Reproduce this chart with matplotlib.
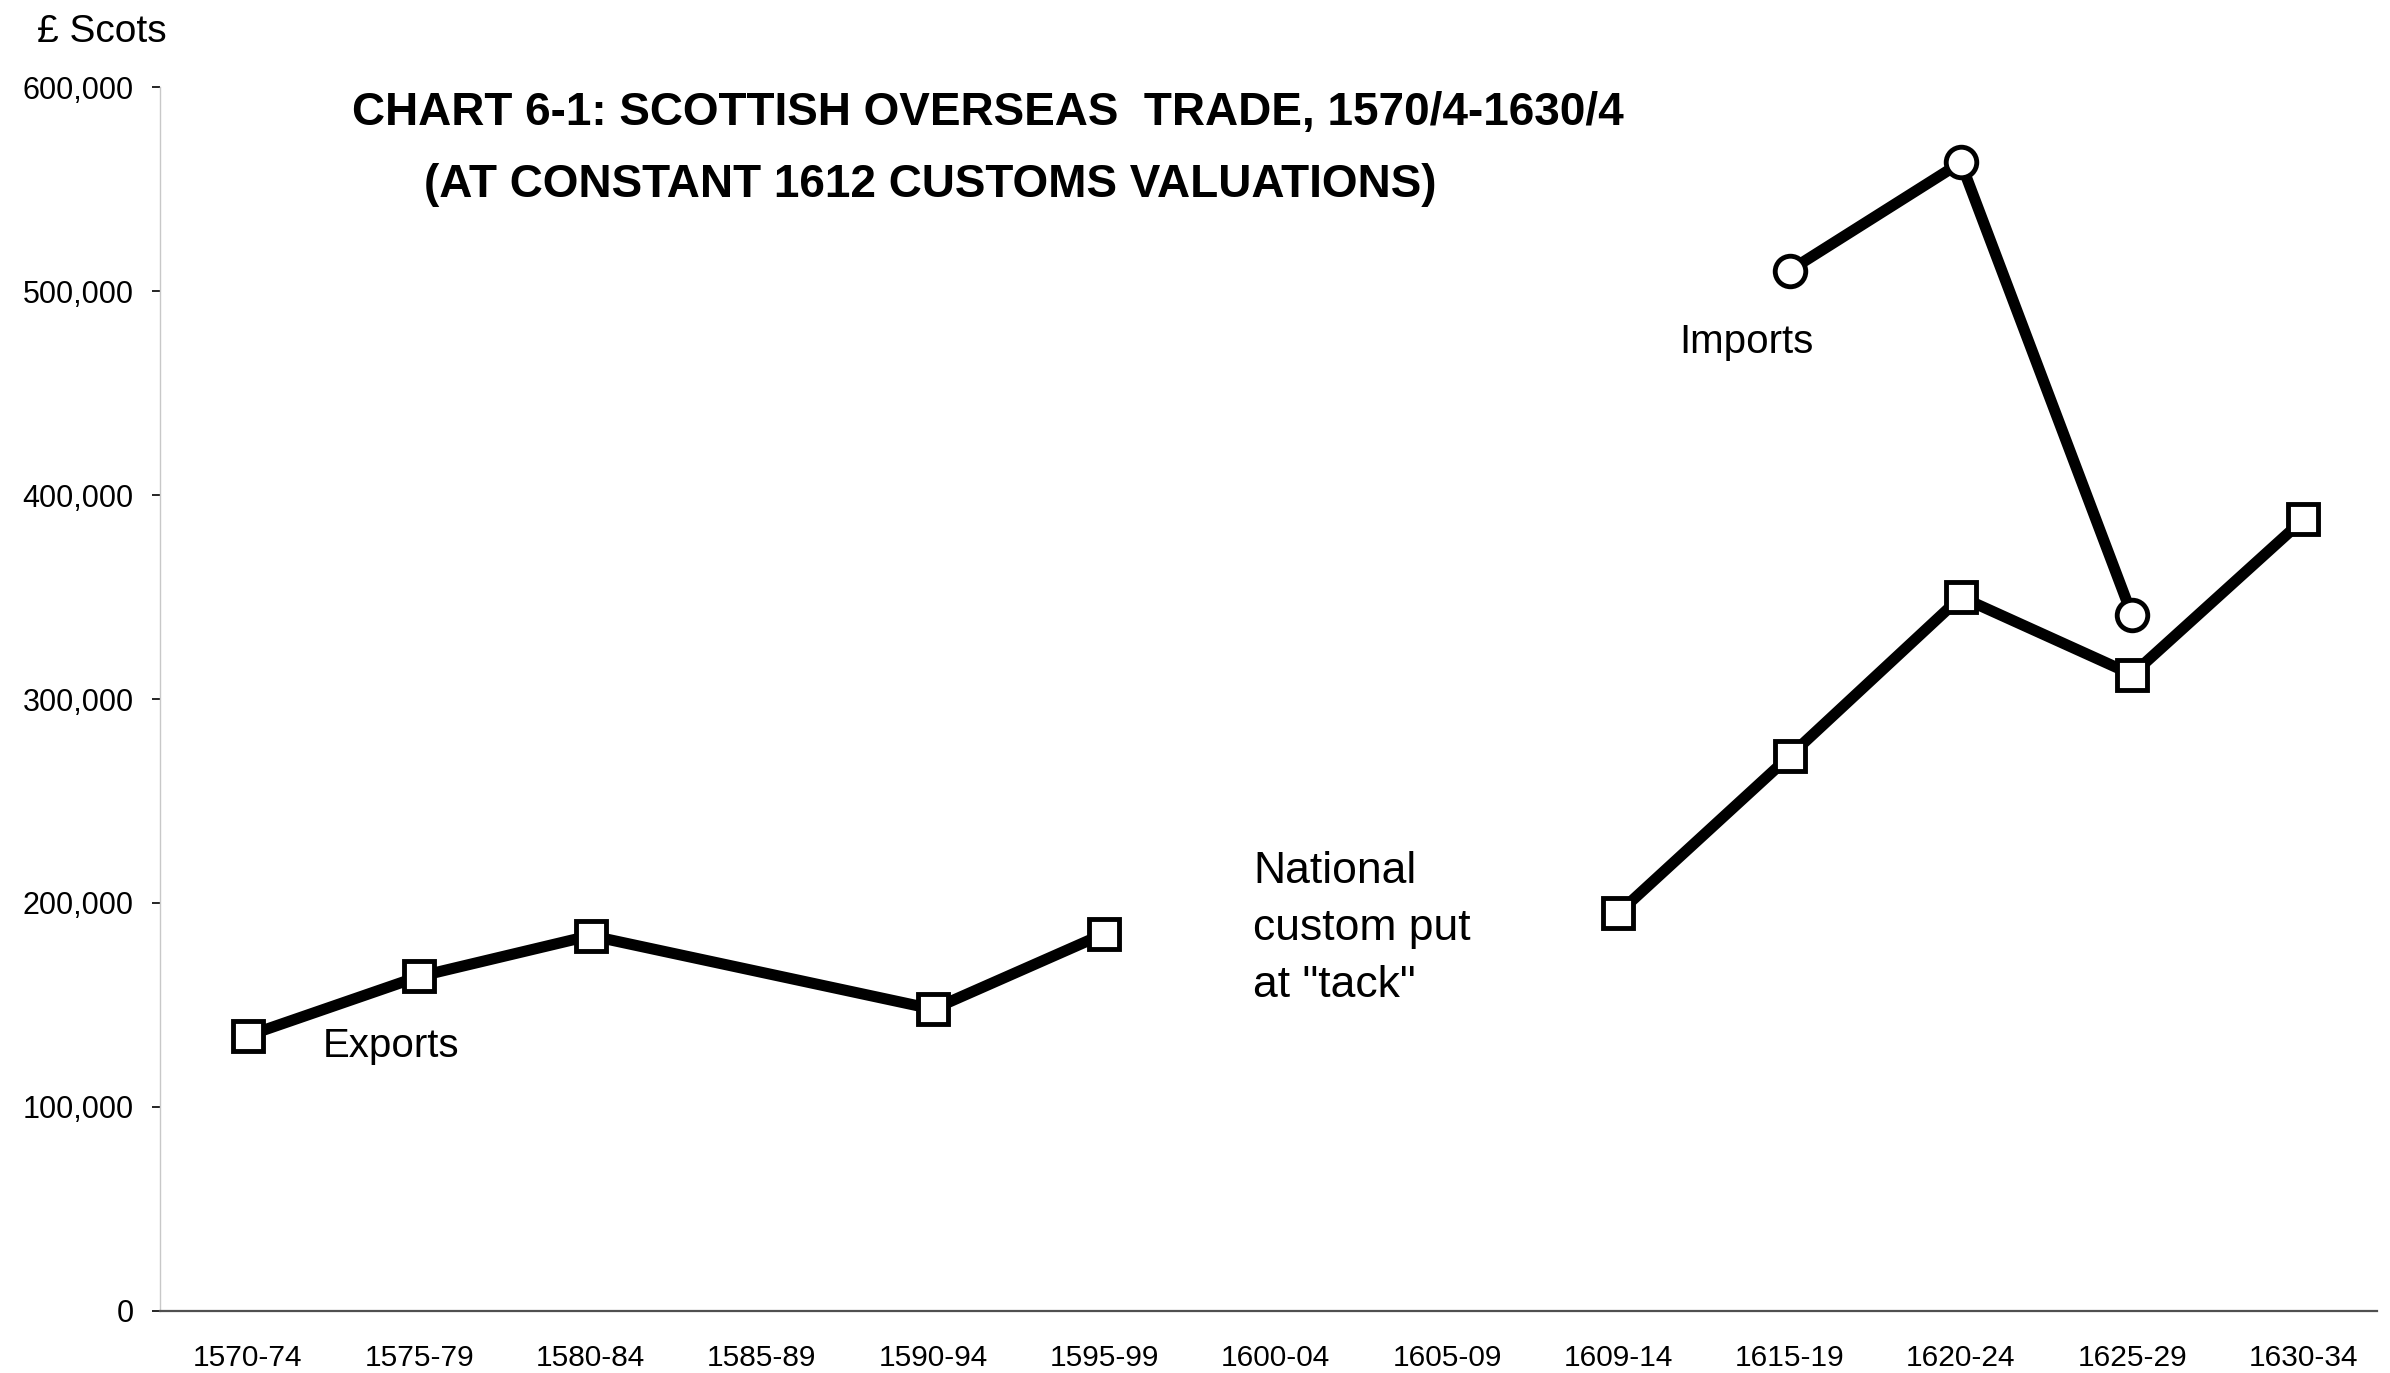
import matplotlib
matplotlib.use('Agg')
import matplotlib.pyplot as plt
import numpy as np

plt.rcParams['font.family'] = ['Liberation Sans', 'DejaVu Sans']

# ---------------- data ----------------
categories = ['1570-74', '1575-79', '1580-84', '1585-89', '1590-94', '1595-99',
              '1600-04', '1605-09', '1609-14', '1615-19', '1620-24', '1625-29', '1630-34']
exports = [135000, 164000, 184000, None, 148000, 185000,
           None, None, None, None, None, None, None]
national_custom = [None, None, None, None, None, None,
                   None, None, 195000, 272000, 350000, 312000, 388000]
imports = [None, None, None, None, None, None,
           None, None, None, 510000, 563000, 341000, None]
y_ticks = [0, 100000, 200000, 300000, 400000, 500000, 600000]
y_tick_labels = ['0', '100,000', '200,000', '300,000', '400,000', '500,000', '600,000']

title_line1 = 'CHART 6-1: SCOTTISH OVERSEAS  TRADE, 1570/4-1630/4'
title_line2 = '(AT CONSTANT 1612 CUSTOMS VALUATIONS)'
y_unit = '£ Scots'
national_label = ['National', 'custom put', 'at "tack"']

# ---------------- figure ----------------
fig = plt.figure(figsize=(23.9, 13.73), dpi=100)
ax = fig.add_axes([0.0669, 0.04516, 0.9277, 0.89147])

pos = np.arange(len(categories))


def present(vals):
    xs = [p for p, v in zip(pos, vals) if v is not None]
    ys = [v for v in vals if v is not None]
    return xs, ys


line_kw = dict(color='black', lw=8, mfc='white', mec='black', mew=3.5,
               clip_on=False, zorder=3, solid_joinstyle='miter')

ex_x, ex_y = present(exports)
ax.plot(ex_x, ex_y, marker='s', ms=21, **line_kw)
nc_x, nc_y = present(national_custom)
ax.plot(nc_x, nc_y, marker='s', ms=21, **line_kw)
im_x, im_y = present(imports)
ax.plot(im_x, im_y, marker='o', ms=22, **line_kw)

ax.set_xlim(-0.514, 12.43)
ax.set_ylim(0, 600000)
ax.set_xticks(pos)
ax.set_xticklabels(categories)
ax.set_yticks(y_ticks)
ax.set_yticklabels(y_tick_labels)
ax.tick_params(axis='x', length=0, pad=24, labelsize=21.5)
ax.tick_params(axis='y', length=6, width=1.2, pad=13, labelsize=22, direction='out')

for s in ['top', 'right']:
    ax.spines[s].set_visible(False)
ax.spines['left'].set_color('#c8c8c8')
ax.spines['left'].set_linewidth(1.0)
ax.spines['bottom'].set_color('#505050')
ax.spines['bottom'].set_linewidth(1.6)

# ---------------- text ----------------
fig.text(988 / 2390, 1 - 125 / 1373, title_line1, ha='center', va='baseline',
         fontsize=33, fontweight='bold')
fig.text(930 / 2390, 1 - 197 / 1373, title_line2, ha='center', va='baseline',
         fontsize=33, fontweight='bold')
fig.text(37 / 2390, 1 - 42 / 1373, y_unit, ha='left', va='baseline', fontsize=28)

fig.text(323 / 2390, 1 - 1057 / 1373, 'Exports', ha='left', va='baseline', fontsize=29)
fig.text(1679 / 2390, 1 - 353 / 1373, 'Imports', ha='left', va='baseline', fontsize=29)
for i, line in enumerate(national_label):
    fig.text(1253 / 2390, 1 - (883 + 57 * i) / 1373, line, ha='left', va='baseline',
             fontsize=32)

fig.savefig('out.png', dpi=100)
